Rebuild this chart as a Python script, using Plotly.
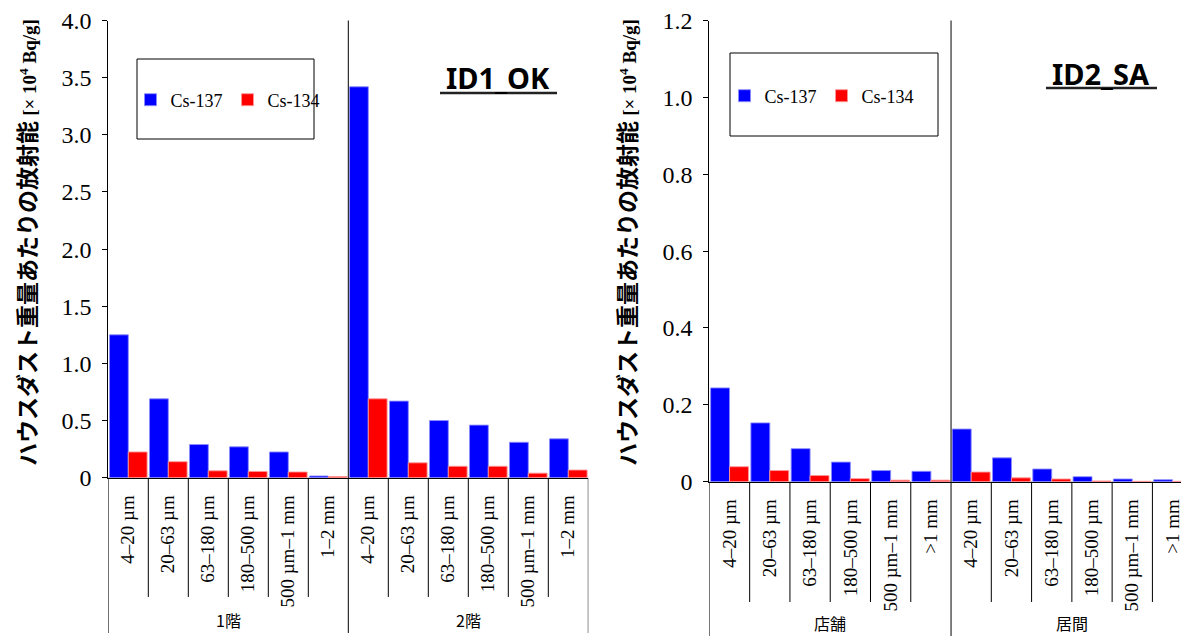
import plotly.graph_objects as go

# ---- data -------------------------------------------------------------
bins_ok = ["4–20 µm", "20–63 µm", "63–180 µm", "180–500 µm", "500 µm–1 mm", "1–2 mm"]
bins_sa = ["4–20 µm", "20–63 µm", "63–180 µm", "180–500 µm", "500 µm–1 mm", ">1 mm"]
groups_ok = ["1階", "2階"]
groups_sa = ["店舗", "居間"]

# activity per unit dust weight [x 10^4 Bq/g]
cs137_ok = [1.25, 0.69, 0.29, 0.27, 0.225, 0.015, 3.42, 0.67, 0.50, 0.46, 0.31, 0.34]
cs134_ok = [0.225, 0.14, 0.06, 0.055, 0.05, 0.01, 0.69, 0.13, 0.10, 0.10, 0.04, 0.067]
cs137_sa = [0.244, 0.153, 0.086, 0.051, 0.029, 0.027, 0.137, 0.062, 0.033, 0.013, 0.007, 0.005]
cs134_sa = [0.039, 0.029, 0.016, 0.008, 0.004, 0.004, 0.025, 0.010, 0.007, 0.002, 0.001, 0.001]

yticks_ok = [0, 0.5, 1.0, 1.5, 2.0, 2.5, 3.0, 3.5, 4.0]
yticklabels_ok = ["0", "0.5", "1.0", "1.5", "2.0", "2.5", "3.0", "3.5", "4.0"]
yticks_sa = [0, 0.2, 0.4, 0.6, 0.8, 1.0, 1.2]
yticklabels_sa = ["0", "0.2", "0.4", "0.6", "0.8", "1.0", "1.2"]

series_names = ["Cs-137", "Cs-134"]
titles = ["ID1_OK", "ID2_SA"]
ytitle_jp = "ハウスダスト重量あたりの放射能"
ytitle_unit = "[× 10<sup>4</sup> Bq/g]"

# ---- layout helpers (pixel -> paper) ----------------------------------
W, H = 1181, 636


def px(x):
    return x / W


def py(y):
    return 1 - y / H


BLUE = "#0000FF"
RED = "#FF0000"
SERIF = "Liberation Serif"
JP = "Noto Sans CJK JP"

x_ok = list(range(len(bins_ok) * len(groups_ok)))
x_sa = list(range(len(bins_sa) * len(groups_sa)))

fig = go.Figure()

for name, vals, col, edge in [
    (series_names[0], cs137_ok, BLUE, "rgba(140,140,255,0.9)"),
    (series_names[1], cs134_ok, RED, "rgba(255,150,150,0.9)"),
]:
    fig.add_trace(go.Bar(x=x_ok, y=vals, name=name, marker=dict(color=col, line=dict(color=edge, width=1)),
                         xaxis="x", yaxis="y", legend="legend"))

for name, vals, col, edge in [
    (series_names[0], cs137_sa, BLUE, "rgba(140,140,255,0.9)"),
    (series_names[1], cs134_sa, RED, "rgba(255,150,150,0.9)"),
]:
    fig.add_trace(go.Bar(x=x_sa, y=vals, name=name, marker=dict(color=col, line=dict(color=edge, width=1)),
                         xaxis="x2", yaxis="y2", legend="legend2"))

common_x = dict(tickangle=-90, ticks="", showline=True, linecolor="black", linewidth=1,
                showgrid=False, zeroline=False, tickfont=dict(family=SERIF, size=19, color="black"),
                ticklabelstandoff=9, ticklabeloverflow="allow", automargin=False, fixedrange=True)
common_y = dict(ticks="outside", ticklen=5, tickcolor="black", showline=True, linecolor="black",
                linewidth=1, showgrid=False, zeroline=False,
                tickfont=dict(family=SERIF, size=24, color="black"), ticklabelstandoff=6,
                ticklabeloverflow="allow", automargin=False, fixedrange=True)

fig.update_layout(
    width=W, height=H,
    margin=dict(l=0, r=0, t=0, b=0, autoexpand=False),
    paper_bgcolor="white", plot_bgcolor="white",
    barmode="group", bargap=0.06, bargroupgap=0,
    xaxis=dict(domain=[px(108.3), px(588.3)], anchor="y", range=[-0.5, 11.5],
               tickvals=x_ok, ticktext=bins_ok * 2, **common_x),
    yaxis=dict(domain=[py(477.7), py(20.5)], anchor="x", range=[0, 4.0],
               tickvals=yticks_ok, ticktext=yticklabels_ok, **common_y),
    xaxis2=dict(domain=[px(709.4), 1.0], anchor="y2", range=[-0.5, 11.21],
                tickvals=x_sa, ticktext=bins_sa * 2, **common_x),
    yaxis2=dict(domain=[py(481.7), py(20.5)], anchor="x2", range=[0, 1.2],
                tickvals=yticks_sa, ticktext=yticklabels_sa, **common_y),
    legend=dict(orientation="h", x=px(228), y=py(100), xanchor="center", yanchor="middle",
                bgcolor="rgba(0,0,0,0)", font=dict(family=SERIF, size=18, color="black"),
                itemwidth=30, traceorder="normal"),
    legend2=dict(orientation="h", x=px(822), y=py(96), xanchor="center", yanchor="middle",
                 bgcolor="rgba(0,0,0,0)", font=dict(family=SERIF, size=18, color="black"),
                 itemwidth=30, traceorder="normal"),
    showlegend=True,
)

shapes = []
line = dict(color="black", width=1)
# legend frames
shapes.append(dict(type="rect", xref="paper", yref="paper", x0=px(137), x1=px(314), y0=py(139), y1=py(59),
                   line=line, layer="below"))
shapes.append(dict(type="rect", xref="paper", yref="paper", x0=px(730), x1=px(938), y0=py(136), y1=py(53),
                   line=line, layer="below"))

# category separators and group frames below each axis
for xref, n_bins, n_groups, y_axis, y_cat, y_end in [
    ("x", len(bins_ok), len(groups_ok), 477.7, 597, 633),
    ("x2", len(bins_sa), len(groups_sa), 481.7, 602, 636),
]:
    total = n_bins * n_groups
    for b in range(total + 1):
        xb = b - 0.5
        if b % n_bins == 0:
            top = 20.5 if 0 < b < total else y_axis
            shapes.append(dict(type="line", xref=xref, yref="paper", x0=xb, x1=xb,
                               y0=py(y_end), y1=py(top), line=line))
        else:
            shapes.append(dict(type="line", xref=xref, yref="paper", x0=xb, x1=xb,
                               y0=py(y_cat), y1=py(y_axis), line=line))

annotations = []
# group names
for xref, groups, n_bins, ylab in [("x", groups_ok, len(bins_ok), 620), ("x2", groups_sa, len(bins_sa), 623)]:
    for g, label in enumerate(groups):
        annotations.append(dict(text=label, xref=xref, yref="paper", x=g * n_bins + (n_bins - 1) / 2,
                                y=py(ylab), showarrow=False, xanchor="center", yanchor="middle",
                                font=dict(family=JP, size=16, color="black")))

# sample IDs, underlined with a separate rule
for title, xc, yc, x0, x1, yu in [(titles[0], 498, 78, 440, 557, 93), (titles[1], 1101, 73, 1046, 1157, 88)]:
    annotations.append(dict(text=f"<b>{title}</b>", xref="paper", yref="paper", x=px(xc), y=py(yc),
                            showarrow=False, xanchor="center", yanchor="middle",
                            font=dict(family="Noto Sans", size=29, color="black")))
    shapes.append(dict(type="line", xref="paper", yref="paper", x0=px(x0), x1=px(x1), y0=py(yu), y1=py(yu),
                       line=dict(color="#222222", width=2.5)))

# y-axis titles
ytitle = (f"<b>{ytitle_jp}</b> <span style='font-family:{SERIF};font-size:19px'><b>{ytitle_unit}</b></span>")
for xc in (26, 626):
    annotations.append(dict(text=ytitle, xref="paper", yref="paper", x=px(xc), y=py(243),
                            textangle=-90, showarrow=False, xanchor="center", yanchor="middle",
                            font=dict(family=JP, size=23, color="black")))

fig.update_layout(shapes=shapes, annotations=annotations)

fig.write_html("out.html")
